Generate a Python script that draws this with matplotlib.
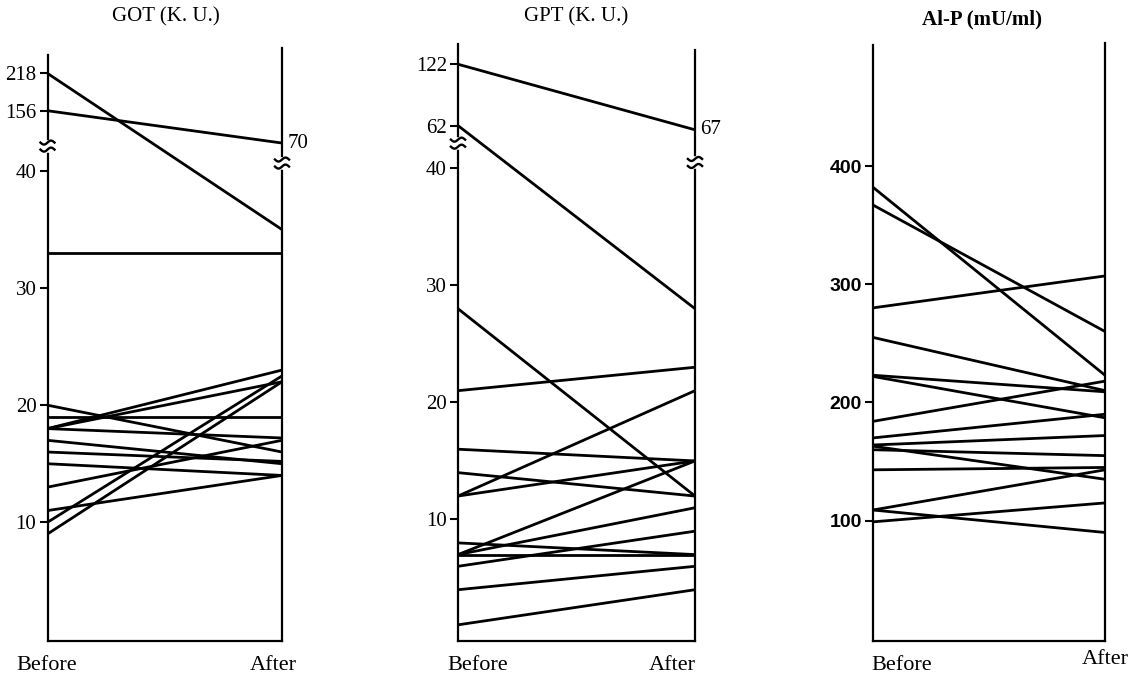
import numpy as np
import matplotlib
matplotlib.use("Agg")
import matplotlib.pyplot as plt

plt.rcParams['font.family'] = ['Liberation Serif', 'DejaVu Serif']

# GOT (K. U.), one line per patient
got_before = [218, 156, 33, 20, 19, 18, 18, 18, 17, 16, 15, 13, 11, 10, 9]
got_after = [35, 70, 33, 16, 19, 23, 22, 17.2, 15, 15.2, 14, 17, 14, 22.5, 22]
got_ticks = [10, 20, 30, 40, 156, 218]

# GPT (K. U.)
gpt_before = [122, 62, 28, 21, 16, 14, 12, 12, 8, 7, 7, 7, 6, 4, 1]
gpt_after = [67, 28, 12, 23, 15, 12, 21, 15, 7, 7, 15, 11, 9, 6, 4]
gpt_ticks = [10, 20, 30, 40, 62, 122]

# Al-P (mU/ml)
alp_before = [382, 367, 280, 255, 223, 222, 184, 170, 164, 160, 163, 143, 109, 109, 99]
alp_after = [223, 260, 307, 210, 209, 187, 218, 190, 172, 155, 135, 145, 143, 90, 115]
alp_ticks = [100, 200, 300, 400]

# broken axes: value anchors -> drawing position (left axis / right axis)
got_lscale = ([0, 41, 156, 218], [0, 41, 45.15, 48.34])
got_rscale = ([0, 40, 70], [0, 40, 42.39])
gpt_lscale = ([0, 41, 62, 122], [0, 41, 43.64, 48.88])
gpt_rscale = ([0, 40, 67], [0, 40, 43.28])
alp_scale = ([0, 600], [0, 600])

W, H = 1129, 677
fig = plt.figure(figsize=(W / 100, H / 100), dpi=100)


def make_ax(x0, x1, top=42, bottom=641):
    return fig.add_axes([x0 / W, (H - bottom) / H, (x1 - x0) / W, (bottom - top) / H])


def draw_break(ax, x, y):
    tr = ax.get_yaxis_transform()
    h = 0.3
    ax.plot([x, x], [y - h, y + h], color='white', lw=4, transform=tr,
            clip_on=False, zorder=5)
    xs = np.linspace(-1, 1, 40)
    for off in (-h, h):
        ax.plot(x + xs * 0.03, y + off + 0.17 * np.sin(np.pi * xs), color='black',
                lw=1.7, transform=tr, clip_on=False, zorder=6)


def draw_panel(ax, before, after, lscale, rscale, ticks, ylim, ltop, rtop,
               tickfont=None):
    y0 = np.interp(before, *lscale)
    y1 = np.interp(after, *rscale)
    for a, b in zip(y0, y1):
        ax.plot([0, 1], [a, b], color='black', lw=2.0, clip_on=False,
                solid_capstyle='butt')
    ax.set_xlim(0, 1)
    ax.set_ylim(*ylim)
    ax.spines['top'].set_visible(False)
    for s in ['left', 'right', 'bottom']:
        ax.spines[s].set_linewidth(1.6)
    ax.spines['left'].set_bounds(ylim[0], ltop)
    ax.spines['right'].set_bounds(ylim[0], rtop)
    ax.set_xticks([])
    ax.set_yticks(np.interp(ticks, *lscale))
    ax.set_yticklabels([str(t) for t in ticks])
    ax.tick_params(axis='y', direction='out', length=6, width=1.5, pad=2,
                   labelsize=15)
    if tickfont:
        for lab in ax.get_yticklabels():
            lab.set_fontfamily(tickfont)
            lab.set_fontweight('bold')
            lab.set_fontsize(14)


ax1 = make_ax(47.5, 282)
draw_panel(ax1, got_before, got_after, got_lscale, got_rscale, got_ticks,
           (-0.14, 51.02), 49.9, 50.5)
draw_break(ax1, 0, 42.13)
draw_break(ax1, 1, 40.68)
ax1.annotate(str(got_after[1]), (1, np.interp(got_after[1], *got_rscale)),
             xytext=(4, 0), textcoords='offset points', ha='left', va='center',
             fontsize=15, annotation_clip=False)

ax2 = make_ax(458, 695)
draw_panel(ax2, gpt_before, gpt_after, gpt_lscale, gpt_rscale, gpt_ticks,
           (-0.38, 50.78), 50.6, 50.1)
draw_break(ax2, 0, 42.14)
draw_break(ax2, 1, 40.49)
ax2.annotate(str(gpt_after[0]), (1, np.interp(gpt_after[0], *gpt_rscale)),
             xytext=(4, 0), textcoords='offset points', ha='left', va='center',
             fontsize=15, annotation_clip=False)

ax3 = make_ax(873, 1105)
draw_panel(ax3, alp_before, alp_after, alp_scale, alp_scale, alp_ticks,
           (-1.8, 504.9), 502.4, 504, tickfont='Liberation Sans')

# titles and Before/After labels
def ftext(x, y, s, **kw):
    fig.text(x / W, 1 - y / H, s, ha='center', va='center', **kw)


ftext(166, 17, 'GOT (K. U.)', fontsize=15)
ftext(576, 17, 'GPT (K. U.)', fontsize=15)
ftext(982, 19, 'Al-P (mU/ml)', fontsize=15, fontweight='bold')

for x, y, s in [(47, 665, 'Before'), (273, 665, 'After'),
                (478, 665, 'Before'), (672, 665, 'After'),
                (902, 665, 'Before'), (1105, 659, 'After')]:
    ftext(x, y, s, fontsize=16)

fig.savefig('out.png', dpi=100)
